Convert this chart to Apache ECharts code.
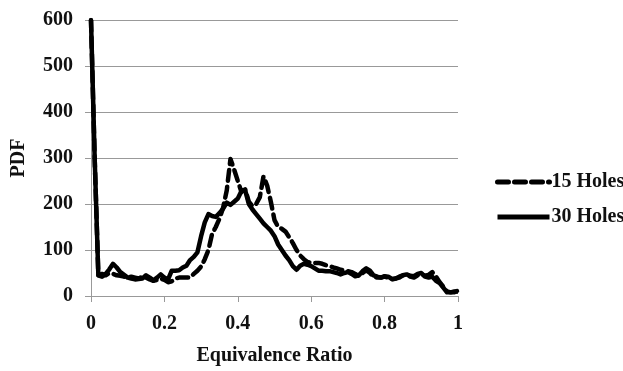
<!DOCTYPE html>
<html>
<head>
<meta charset="utf-8">
<title>PDF</title>
<script src="https://cdn.jsdelivr.net/npm/echarts@6/dist/echarts.min.js"></script>
<style>
  body { margin: 0; background: #fff; }
  #chart { width: 623px; height: 371px; }
</style>
</head>
<body>
<div id="chart"></div>
<script>
// equivalence ratio bins, 0.00 .. 1.00
var ratio = [];
for (var i = 0; i <= 100; i++) ratio.push(+(i / 100).toFixed(2));

var holes15 = [600,300,45,48,45,50,48,45,44,42,
  40,42,40,38,42,40,36,33,35,38,
  35,30,32,38,40,40,40,40,48,55,
  64,80,100,135,150,168,192,230,298,275,
  250,226,232,205,195,200,215,260,240,205,
  165,150,146,140,128,115,100,88,80,74,
  72,72,72,70,67,65,62,60,57,56,
  54,52,48,43,50,56,50,42,40,40,
  42,40,36,38,42,45,48,42,40,45,
  48,44,46,52,42,30,20,10,8,8,12];

var holes30 = [600,300,45,42,48,58,70,62,52,46,
  40,38,36,37,38,45,40,34,40,47,
  40,36,55,55,56,62,66,78,85,95,
  130,160,178,174,172,180,190,203,198,205,
  212,228,230,200,188,178,168,158,150,142,
  130,112,100,88,78,65,57,66,70,68,
  65,60,55,55,54,54,52,50,47,50,
  52,48,43,45,54,60,55,45,42,40,
  43,42,37,38,40,45,47,44,43,48,
  50,42,40,42,33,28,18,8,8,10,10];

var seriesNames = ['15 Holes', '30 Holes'];

function pairs(ys) {
  return ratio.map(function (x, i) { return [x, ys[i]]; });
}

var font = 'Liberation Serif';
var txt = { fontFamily: font, fontWeight: 'bold', fontSize: 20, color: '#111' };
var chart = echarts.init(document.getElementById('chart'), null, { width: 623, height: 371 });
chart.setOption({
  animation: false,
  grid: { left: 91, top: 20, width: 367, height: 282 },
  legend: {
    orient: 'vertical',
    left: 490, top: 167,
    itemWidth: 52, itemHeight: 20, itemGap: 15,
    itemStyle: { opacity: 0 },
    lineStyle: { width: 5 },
    textStyle: { fontFamily: font, fontWeight: 'bold', fontSize: 20, color: '#111', padding: [0, 0, 0, -3] },
    data: seriesNames
  },
  xAxis: {
    type: 'value', min: 0, max: 1, interval: 0.2,
    name: 'Equivalence Ratio', nameLocation: 'middle', nameGap: 50,
    nameTextStyle: txt,
    axisLine: { lineStyle: { color: '#999' } },
    axisTick: { show: true, length: 6, lineStyle: { color: '#999' } },
    splitLine: { show: false },
    axisLabel: Object.assign({ margin: 18 }, txt)
  },
  yAxis: {
    type: 'value', min: 0, max: 600, interval: 100,
    name: 'PDF', nameLocation: 'middle', nameGap: 62, nameRotate: 90,
    nameTextStyle: txt,
    axisLine: { show: true, lineStyle: { color: '#999' } },
    axisTick: { show: true, length: 6, lineStyle: { color: '#999' } },
    splitLine: { lineStyle: { color: '#999' } },
    axisLabel: Object.assign({ margin: 18 }, txt)
  },
  series: [
    {
      name: seriesNames[0], type: 'line', data: pairs(holes15),
      symbol: 'none', clip: true,
      lineStyle: { color: '#000', width: 4.5, type: [11, 6], cap: 'round', join: 'round' },
      itemStyle: { color: '#000' }
    },
    {
      name: seriesNames[1], type: 'line', data: pairs(holes30),
      symbol: 'none', clip: true,
      lineStyle: { color: '#000', width: 4.5, join: 'round' },
      itemStyle: { color: '#000' }
    }
  ]
});
</script>
</body>
</html>
